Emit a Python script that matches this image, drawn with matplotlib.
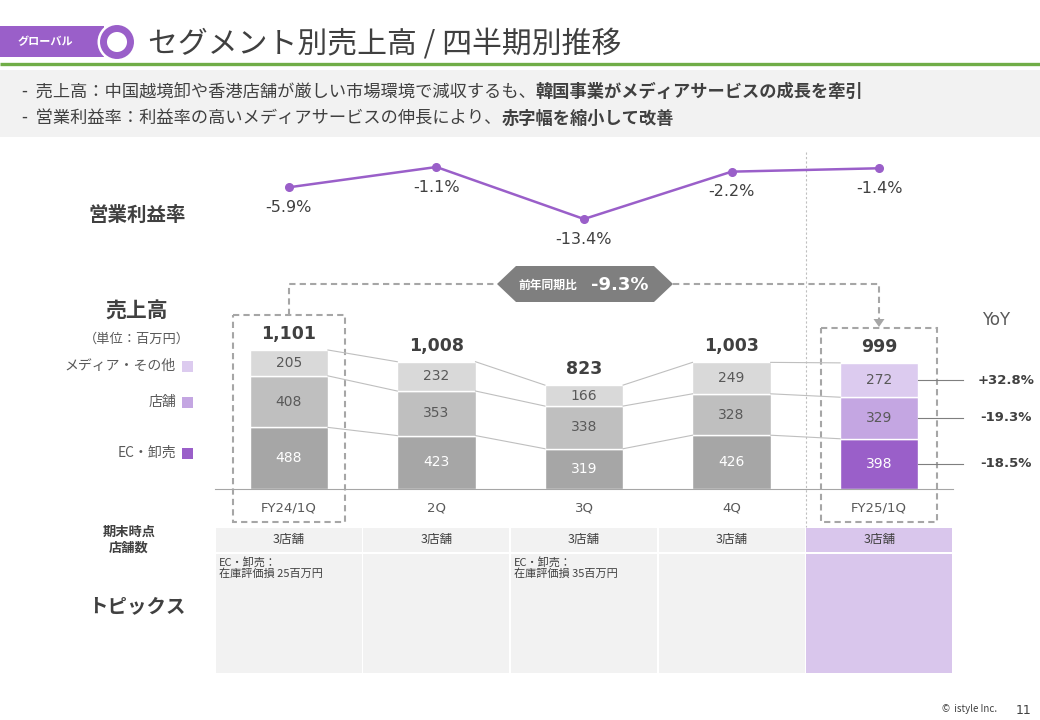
import numpy as np
import matplotlib.pyplot as plt
from matplotlib.patches import Rectangle, Polygon, Circle

plt.rcParams['font.family'] = ['Noto Sans CJK JP', 'DejaVu Sans']

# data
quarters = ["FY24/1Q", "2Q", "3Q", "4Q", "FY25/1Q"]
ec_sales = [488, 423, 319, 426, 398]
store_sales = [408, 353, 338, 328, 329]
media_sales = [205, 232, 166, 249, 272]
totals = [1101, 1008, 823, 1003, 999]
op_margin = [-5.9, -1.1, -13.4, -2.2, -1.4]
yoy_labels = ["-18.5%", "-19.3%", "+32.8%"]   # EC, store, media
yoy_total = "-9.3%"
store_counts = ["3店舗", "3店舗", "3店舗", "3店舗", "3店舗"]
topics = ["EC・卸売：\n在庫評価損 25百万円", "", "EC・卸売：\n在庫評価損 35百万円", "", ""]
legend_names = ["メディア・その他", "店舗", "EC・卸売"]

W, H = 1040, 720
DARK = "#404040"
MID = "#595959"
PURPLE = "#9a5fc9"
gray_cols = ["#a6a6a6", "#bfbfbf", "#d9d9d9"]
purple_cols = ["#9a5fc9", "#c4a6e2", "#dccbef"]


def fig_rect(x0, y0, x1, y1):
    return [x0 / W, 1 - y1 / H, (x1 - x0) / W, (y1 - y0) / H]


fig = plt.figure(figsize=(W / 100, H / 100), dpi=100)

# overlay in pixel coordinates for the slide decoration
ov = fig.add_axes([0, 0, 1, 1], zorder=0)
ov.set_xlim(0, W)
ov.set_ylim(H, 0)
ov.axis("off")

# header
ov.add_patch(Rectangle((0, 26), 104, 31, color=PURPLE, lw=0))
ov.text(45, 42, "グローバル", color="white", fontsize=8, weight="bold", ha="center", va="center")
ov.add_patch(Circle((117, 42), 19.5, color="white", lw=0))
ov.add_patch(Circle((117, 42), 13.5, facecolor="white", edgecolor=PURPLE, lw=5))
ov.text(148, 44, "セグメント別売上高 / 四半期別推移", color=DARK, fontsize=21.5, va="center")
ov.plot([0, W], [64, 64], color="#70ad47", lw=2.4, solid_capstyle="butt")
ov.add_patch(Rectangle((0, 70), W, 67, color="#f2f2f2", lw=0))

bullets = [("-  売上高：中国越境卸や香港店舗が厳しい市場環境で減収するも、", "韓国事業がメディアサービスの成長を牽引", 92),
           ("-  営業利益率：利益率の高いメディアサービスの伸長により、", "赤字幅を縮小して改善", 119)]
for normal, bold, yy in bullets:
    t = ov.text(22, yy, normal, color=DARK, fontsize=12.4, va="center")
    ov.annotate(bold, xy=(1, 0.5), xycoords=t, va="center", ha="left",
                color=DARK, fontsize=12.4, weight="bold")

# left side labels
ov.text(137, 215, "営業利益率", color=DARK, fontsize=14, weight="bold", ha="center", va="center")
ov.text(137, 311, "売上高", color=DARK, fontsize=15, weight="bold", ha="center", va="center")
ov.text(137, 339, "（単位：百万円）", color=MID, fontsize=9.5, ha="center", va="center")
for name, col, yy in zip(legend_names, purple_cols[::-1], [366, 402, 453]):
    ov.text(176, yy, name, color=MID, fontsize=10, ha="right", va="center")
    ov.add_patch(Rectangle((182, yy - 5.5), 11, 11, color=col, lw=0))

# table
col_edges = np.linspace(215, 953, 6)
for i in range(5):
    fc = "#d9c6ec" if i == 4 else "#f2f2f2"
    x0, x1 = col_edges[i] + 0.8, col_edges[i + 1] - 0.8
    ov.add_patch(Rectangle((x0, 528), x1 - x0, 24, color=fc, lw=0))
    ov.add_patch(Rectangle((x0, 553.5), x1 - x0, 119.5, color=fc, lw=0))
    ov.text((col_edges[i] + col_edges[i + 1]) / 2, 540, store_counts[i], color=DARK,
            fontsize=9, ha="center", va="center")
    if topics[i]:
        ov.text(col_edges[i] + 4, 557, topics[i], color=DARK, fontsize=8,
                ha="left", va="top", linespacing=1.0)
ov.text(129, 540, "期末時点\n店舗数", color=DARK, fontsize=9.5, weight="bold",
        ha="center", va="center", linespacing=1.2)
ov.text(137, 607, "トピックス", color=DARK, fontsize=14, weight="bold", ha="center", va="center")

# dashed frames, connector and YoY badge
ov.plot([806, 806], [152, 527], color="#bfbfbf", lw=0.8, ls=(0, (2, 2)))
for x0, y0, x1 in [(233, 315, 345), (821, 328, 937)]:
    ov.add_patch(Rectangle((x0, y0), x1 - x0, 522 - y0, fill=False, edgecolor="#a6a6a6",
                           lw=1.5, ls=(0, (3, 2))))
ov.plot([289, 289, 497], [315, 284, 284], color="#a6a6a6", lw=1.5, ls=(0, (3, 2)))
ov.plot([673, 879, 879], [284, 284, 320], color="#a6a6a6", lw=1.5, ls=(0, (3, 2)))
ov.add_patch(Polygon([(873.5, 319), (884.5, 319), (879, 327)], color="#a6a6a6", lw=0))
ov.add_patch(Polygon([(497, 284), (516, 266), (654, 266), (673, 284), (654, 302), (516, 302)],
                     color="#7f7f7f", lw=0))
ov.text(548, 285, "前年同期比", color="white", fontsize=8.5, weight="bold", ha="center", va="center")
ov.text(620, 285, yoy_total, color="white", fontsize=13, weight="bold", ha="center", va="center",
        family="DejaVu Sans")
ov.text(996, 320, "YoY", color=MID, fontsize=12, ha="center", va="center", family="DejaVu Sans")

# footer
ov.text(970, 709, "©  istyle Inc.", color=DARK, fontsize=7, ha="center", va="center")
ov.text(1024, 710, "11", color=DARK, fontsize=9, ha="center", va="center", family="DejaVu Sans")

# stacked bars
x = np.arange(len(quarters))
w = 0.53
ax = fig.add_axes(fig_rect(215, 330, 953, 489), zorder=2)
ax.patch.set_alpha(0)
ec = np.array(ec_sales)
st = np.array(store_sales)
md = np.array(media_sales)
layers = [(ec, 0), (st, ec), (md, ec + st)]
for k, (vals, bottom) in enumerate(layers):
    cols = [gray_cols[k]] * 4 + [purple_cols[k]]
    bars = ax.bar(x, vals, w, bottom=bottom, color=cols, edgecolor="white", lw=1)
    lab_col = "white" if k == 0 else MID
    ax.bar_label(bars, label_type="center", color=lab_col, fontsize=10, family="DejaVu Sans")

# thin lines linking segment tops
levels = [ec, ec + st, ec + st + md]
for lev in levels:
    for i in range(len(x) - 1):
        ax.plot([x[i] + w / 2, x[i + 1] - w / 2], [lev[i], lev[i + 1]], color="#bfbfbf", lw=0.8)

for i, tot in enumerate(totals):
    ax.annotate(f"{tot:,}", (x[i], levels[2][i]), xytext=(0, 5), textcoords="offset points",
                ha="center", va="bottom", fontsize=12.5, weight="bold", color=DARK,
                family="DejaVu Sans")

# YoY leaders on the last bar
mids = [ec[-1] / 2, ec[-1] + st[-1] / 2, ec[-1] + st[-1] + md[-1] / 2]
for m, lab in zip(mids, yoy_labels):
    ax.plot([x[-1] + w / 2, 4.57], [m, m], color="#7f7f7f", lw=0.8, clip_on=False)
    ax.text(4.86, m, lab, color=DARK, fontsize=9.5, weight="bold", ha="center", va="center",
            family="DejaVu Sans")

ax.set_xlim(-0.5, 4.5)
ax.set_ylim(0, 159 / 0.12625)
ax.set_xticks(x)
ax.set_xticklabels(quarters, fontsize=9.5, color=MID, family="DejaVu Sans")
ax.tick_params(axis="x", length=0, pad=9)
ax.set_yticks([])
for s in ["top", "left", "right"]:
    ax.spines[s].set_visible(False)
ax.spines["bottom"].set_color("#a6a6a6")
ax.spines["bottom"].set_linewidth(0.8)

# operating margin line
ax2 = fig.add_axes(fig_rect(215, 150, 953, 240), zorder=2)
ax2.patch.set_alpha(0)
ax2.plot(x, op_margin, color=PURPLE, lw=1.8, marker="o", ms=5.5)
for i, v in enumerate(op_margin):
    ax2.annotate(f"{v}%", (x[i], v), xytext=(0, -14.5), textcoords="offset points",
                 ha="center", va="center", fontsize=11.5, color=DARK, family="DejaVu Sans")
ax2.set_xlim(-0.5, 4.5)
ax2.set_ylim(-18.36, 2.92)
ax2.axis("off")

fig.savefig("out.png", dpi=100)
